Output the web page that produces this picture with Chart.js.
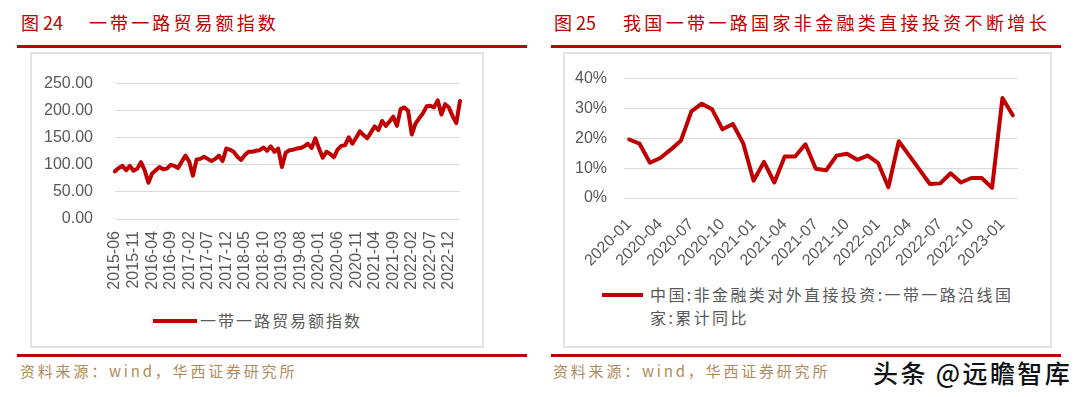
<!DOCTYPE html>
<html>
<head>
<meta charset="utf-8">
<script src="https://cdn.jsdelivr.net/npm/chart.js@4.4.1/dist/chart.umd.min.js"></script>
<style>
  html, body { margin: 0; padding: 0; background: #fff; }
  body { width: 1080px; height: 397px; position: relative; overflow: hidden; font-family: "Noto Sans CJK SC", sans-serif; }
  .abs { position: absolute; }
  .title { color: #c00000; font-size: 18px; line-height: 20px; top: 12px; white-space: nowrap; }
  .rule { background: #c00000; height: 3px; }
  .box { border: 2px solid #e2e2e2; box-sizing: border-box; }
  .src { color: #b08a5c; font-size: 15px; line-height: 18px; letter-spacing: 2.8px; top: 362px; white-space: nowrap; }
  .leg { font-size: 16px; color: #595959; letter-spacing: 2px; line-height: 23px; white-space: nowrap; }
  .legline { background: #c00000; height: 4px; }
  .mark { color: #111; font-size: 25px; line-height: 28px; letter-spacing: 2.4px; font-weight: 500; white-space: nowrap;
          text-shadow: -1px -1px 0 #fff, 1px -1px 0 #fff, -1px 1px 0 #fff, 1px 1px 0 #fff; }
</style>
</head>
<body>

<!-- 左图 -->
<div class="abs title" style="left:21px;">图 24</div>
<div class="abs title" style="left:89px; letter-spacing:3.1px;">一带一路贸易额指数</div>
<div class="abs rule" style="left:17px; top:45px; width:510px;"></div>
<div class="abs box" style="left:30px; top:52px; width:454px; height:296px;"></div>
<canvas id="tradeChart" class="abs" style="left:30px; top:52px;" width="454" height="250"></canvas>
<div class="abs legline" style="left:153px; top:319px; width:44px;"></div>
<div class="abs leg" style="left:200px; top:309px;">一带一路贸易额指数</div>
<div class="abs rule" style="left:17px; top:354px; width:510px;"></div>
<div class="abs src" style="left:20px;">资料来源：wind，华西证券研究所</div>

<!-- 右图 -->
<div class="abs title" style="left:554px;">图 25</div>
<div class="abs title" style="left:623px; letter-spacing:3.35px;">我国一带一路国家非金融类直接投资不断增长</div>
<div class="abs rule" style="left:551px; top:45px; width:510px;"></div>
<div class="abs box" style="left:563px; top:52px; width:489px; height:296px;"></div>
<canvas id="odiChart" class="abs" style="left:563px; top:52px;" width="489" height="230"></canvas>
<div class="abs legline" style="left:602px; top:293px; width:41px;"></div>
<div class="abs leg" style="left:650px; top:283px; letter-spacing:2.4px;">中国:非金融类对外直接投资:一带一路沿线国<br>家:累计同比</div>
<div class="abs rule" style="left:551px; top:354px; width:510px;"></div>
<div class="abs src" style="left:553px;">资料来源：wind，华西证券研究所</div>
<div class="abs mark" style="left:873px; top:358px;">头条 @远瞻智库</div>

<script>
// 一带一路贸易额指数（月度）
const leftLabels = [
  '2015-06','2015-07','2015-08','2015-09','2015-10','2015-11','2015-12',
  '2016-01','2016-02','2016-03','2016-04','2016-05','2016-06','2016-07','2016-08','2016-09','2016-10','2016-11','2016-12',
  '2017-01','2017-02','2017-03','2017-04','2017-05','2017-06','2017-07','2017-08','2017-09','2017-10','2017-11','2017-12',
  '2018-01','2018-02','2018-03','2018-04','2018-05','2018-06','2018-07','2018-08','2018-09','2018-10','2018-11','2018-12',
  '2019-01','2019-02','2019-03','2019-04','2019-05','2019-06','2019-07','2019-08','2019-09','2019-10','2019-11','2019-12',
  '2020-01','2020-02','2020-03','2020-04','2020-05','2020-06','2020-07','2020-08','2020-09','2020-10','2020-11','2020-12',
  '2021-01','2021-02','2021-03','2021-04','2021-05','2021-06','2021-07','2021-08','2021-09','2021-10','2021-11','2021-12',
  '2022-01','2022-02','2022-03','2022-04','2022-05','2022-06','2022-07','2022-08','2022-09','2022-10','2022-11','2022-12',
  '2023-01','2023-02','2023-03'
];
const leftTickLabels = [
  '2015-06','2015-11','2016-04','2016-09','2017-02','2017-07','2017-12','2018-05','2018-10','2019-03',
  '2019-08','2020-01','2020-06','2020-11','2021-04','2021-09','2022-02','2022-07','2022-12'
];
const tradeIndex = [
  88, 94, 98, 90, 98, 89, 93, 105, 90, 67,
  84, 90, 96, 92, 93, 100, 98, 94, 106, 117,
  106, 80, 110, 111, 115, 111, 107, 111, 117, 107,
  130, 128, 124, 115, 109, 118, 124, 124, 126, 127,
  132, 126, 134, 124, 130, 96, 122, 127, 128, 130,
  131, 134, 139, 131, 149, 130, 113, 124, 120, 114,
  128, 135, 136, 151, 139, 150, 162, 155, 149, 160,
  171, 164, 181, 172, 180, 189, 172, 203, 206, 200,
  156, 176, 186, 195, 208, 209, 206, 219, 193, 212,
  206, 190, 177, 218
];

// 非金融类对外直接投资：一带一路沿线国家 累计同比（%）
const rightLabels = [
  '2020-01','2020-02','2020-03','2020-04','2020-05','2020-06','2020-07','2020-08','2020-09','2020-10','2020-11','2020-12',
  '2021-01','2021-02','2021-03','2021-04','2021-05','2021-06','2021-07','2021-08','2021-09','2021-10','2021-11','2021-12',
  '2022-01','2022-02','2022-03','2022-04','2022-05','2022-06','2022-07','2022-08','2022-09','2022-10','2022-11','2022-12',
  '2023-01','2023-02'
];
const rightTickLabels = [
  '2020-01','2020-04','2020-07','2020-10','2021-01','2021-04','2021-07',
  '2021-10','2022-01','2022-04','2022-07','2022-10','2023-01'
];
const odiGrowth = [
  19.6, 18.2, 11.8, 13.4, 16.2, 19.3, 29.0, 31.6, 29.7, 23.0,
  24.8, 18.3, 5.8, 12.1, 5.2, 13.9, 13.9, 18.0, 9.8, 9.3,
  14.2, 14.8, 12.8, 14.2, 11.8, 3.6, 19.0, 14.3, 9.5, 4.7,
  4.9, 8.3, 5.2, 6.7, 6.7, 3.4, 33.5, 27.7
];

Chart.defaults.font.family = '"Liberation Sans", Arial, sans-serif';
Chart.defaults.color = '#595959';

const lineRed = '#c00000';
const gridGray = '#d9d9d9';

new Chart(document.getElementById('tradeChart'), {
  type: 'line',
  data: {
    labels: leftLabels,
    datasets: [{
      label: '一带一路贸易额指数',
      data: tradeIndex,
      borderColor: lineRed,
      borderWidth: 4,
      borderJoinStyle: 'round',
      borderCapStyle: 'round',
      pointRadius: 0,
      tension: 0,
      fill: false
    }]
  },
  options: {
    responsive: false,
    animation: false,
    devicePixelRatio: 1,
    layout: { padding: { top: 19, right: 24, left: 0, bottom: 0 } },
    plugins: { legend: { display: false }, tooltip: { enabled: false } },
    scales: {
      x: {
        grid: { display: false },
        border: { display: false },
        ticks: {
          autoSkip: false, minRotation: 90, maxRotation: 90, padding: 4,
          font: { size: 16 },
          callback: function(v, i) {
            const l = leftLabels[i];
            return leftTickLabels.includes(l) ? l : '';
          }
        },
        afterFit: function(s) { s.height = 83; }
      },
      y: {
        min: 0, max: 250,
        grid: { color: gridGray, drawTicks: false },
        border: { display: false },
        ticks: { stepSize: 50, padding: 22, font: { size: 16 }, callback: v => v.toFixed(2) },
        afterFit: function(s) { s.width = 85; }
      }
    }
  }
});

new Chart(document.getElementById('odiChart'), {
  type: 'line',
  data: {
    labels: rightLabels,
    datasets: [{
      label: '中国:非金融类对外直接投资:一带一路沿线国家:累计同比',
      data: odiGrowth,
      borderColor: lineRed,
      borderWidth: 4,
      borderJoinStyle: 'round',
      borderCapStyle: 'round',
      pointRadius: 0,
      tension: 0,
      fill: false
    }]
  },
  options: {
    responsive: false,
    animation: false,
    devicePixelRatio: 1,
    layout: { padding: { top: 19, right: 34, left: 0, bottom: 0 } },
    plugins: { legend: { display: false }, tooltip: { enabled: false } },
    scales: {
      x: {
        offset: true,
        grid: { display: false },
        border: { display: false },
        ticks: {
          autoSkip: false, minRotation: 45, maxRotation: 45, padding: 9,
          font: { size: 16 },
          callback: function(v, i) {
            const l = rightLabels[i];
            return rightTickLabels.includes(l) ? l : '';
          }
        },
        afterFit: function(s) { s.height = 84; }
      },
      y: {
        min: 0, max: 40,
        grid: { color: gridGray, drawTicks: false },
        border: { display: false },
        ticks: { stepSize: 10, padding: 17, font: { size: 16 }, callback: v => v + '%' },
        afterFit: function(s) { s.width = 61; }
      }
    }
  }
});
</script>
</body>
</html>
